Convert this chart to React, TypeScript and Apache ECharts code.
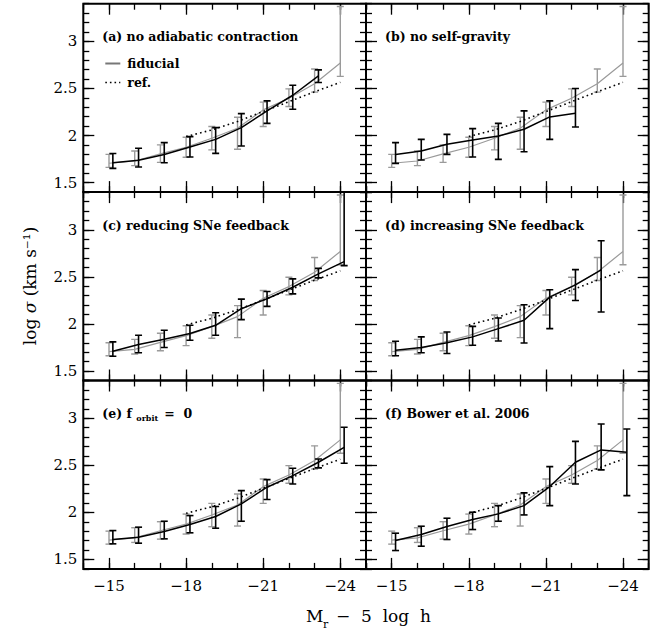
import React, { useEffect, useRef } from "react";
import * as echarts from "echarts";

// ---------- data ----------
const MAGNITUDES = [-15, -16, -17, -18, -19, -20, -21, -22, -23, -24];

// fiducial model (grey, same in all panels)
const FID_Y = [1.706, 1.73, 1.805, 1.876, 1.972, 2.078, 2.273, 2.397, 2.55, 2.77];
const FID_LO = [1.663, 1.681, 1.716, 1.77, 1.848, 1.855, 2.096, 2.309, 2.461, 2.628];
const FID_HI = [1.801, 1.837, 1.901, 1.982, 2.096, 2.195, 2.355, 2.496, 2.706, 3.37];

// reference relation (dotted)
const REF_X = [-18, -19, -20, -21, -22, -23, -24];
const REF_Y = [1.99, 2.06, 2.15, 2.255, 2.36, 2.465, 2.565];

// variant models (black)
const A_Y = [1.712, 1.737, 1.8, 1.879, 1.96, 2.084, 2.262, 2.428, 2.634];
const A_LO = [1.652, 1.666, 1.712, 1.772, 1.811, 1.889, 2.13, 2.279, 2.563];
const A_HI = [1.81, 1.865, 1.925, 1.989, 2.084, 2.233, 2.368, 2.535, 2.698];

const B_Y = [1.8, 1.836, 1.907, 1.953, 1.996, 2.067, 2.198, 2.237];
const B_LO = [1.705, 1.74, 1.8, 1.772, 1.747, 1.829, 1.96, 2.091];
const B_HI = [1.925, 1.96, 2.013, 2.074, 2.13, 2.262, 2.368, 2.499];

const C_Y = [1.711, 1.782, 1.838, 1.898, 1.986, 2.162, 2.268, 2.39, 2.532, 2.662];
const C_LO = [1.658, 1.694, 1.75, 1.827, 1.88, 2.046, 2.187, 2.32, 2.489, 2.62];
const C_HI = [1.81, 1.88, 1.933, 1.986, 2.12, 2.264, 2.345, 2.479, 2.59, 3.4];

const D_Y = [1.722, 1.75, 1.8, 1.863, 1.951, 2.039, 2.285, 2.415, 2.574];
const D_LO = [1.662, 1.694, 1.687, 1.775, 1.82, 1.798, 1.951, 2.25, 2.127];
const D_HI = [1.817, 1.863, 1.915, 1.975, 2.063, 2.204, 2.363, 2.577, 2.884];

const E_Y = [1.712, 1.737, 1.797, 1.871, 1.956, 2.09, 2.267, 2.39, 2.532, 2.69];
const E_LO = [1.666, 1.673, 1.719, 1.783, 1.832, 1.906, 2.136, 2.302, 2.472, 2.521];
const E_HI = [1.807, 1.843, 1.906, 1.966, 2.062, 2.231, 2.348, 2.468, 2.567, 2.903];

const F_Y = [1.701, 1.765, 1.85, 1.924, 1.984, 2.072, 2.274, 2.532, 2.663, 2.638];
const F_LO = [1.595, 1.641, 1.712, 1.818, 1.906, 1.973, 2.072, 2.302, 2.451, 2.178];
const F_HI = [1.779, 1.853, 1.938, 2.002, 2.072, 2.207, 2.486, 2.754, 2.938, 2.885];

const PANEL_LABELS = [
  "(a) no adiabatic contraction",
  "(b) no self-gravity",
  "(c) reducing SNe feedback",
  "(d) increasing SNe feedback",
  "(e) f",
  "(f) Bower et al. 2006",
];

const X_MAJOR = [-15, -18, -21, -24];
const Y_MAJOR = [1.5, 2, 2.5, 3];

// ---------- layout / style ----------
const GRAY = "#9a9a9a";
const BLACK_OFFSET = -0.15;
const COL_LEFT = [83.3, 366];
const COL_W = 282.7;
const ROW_TOP = [3.7, 192.1, 380.5];
const ROW_H = 188.4;
const SERIF = "DejaVu Serif";

const PANELS = [
  { y: A_Y, lo: A_LO, hi: A_HI },
  { y: B_Y, lo: B_LO, hi: B_HI },
  { y: C_Y, lo: C_LO, hi: C_HI },
  { y: D_Y, lo: D_LO, hi: D_HI },
  { y: E_Y, lo: E_LO, hi: E_HI },
  { y: F_Y, lo: F_LO, hi: F_HI },
];

function errRender(color: string, width: number, cap: number) {
  return (params: any, api: any) => {
    const x = api.value(0);
    const p1 = api.coord([x, api.value(1)]);
    const p2 = api.coord([x, api.value(2)]);
    const st = { stroke: color, lineWidth: width };
    return {
      type: "group",
      children: [
        { type: "line", shape: { x1: p1[0], y1: p1[1], x2: p2[0], y2: p2[1] }, style: st },
        { type: "line", shape: { x1: p1[0] - cap, y1: p1[1], x2: p1[0] + cap, y2: p1[1] }, style: st },
        { type: "line", shape: { x1: p2[0] - cap, y1: p2[1], x2: p2[0] + cap, y2: p2[1] }, style: st },
      ],
    };
  };
}

function buildOption() {
  const grid: any[] = [];
  const xAxis: any[] = [];
  const yAxis: any[] = [];
  const series: any[] = [];
  const graphic: any[] = [];

  PANELS.forEach((p, i) => {
    const col = i % 2;
    const row = Math.floor(i / 2);
    grid.push({
      left: COL_LEFT[col],
      top: ROW_TOP[row],
      width: COL_W,
      height: ROW_H,
      show: true,
      borderColor: "#000",
      borderWidth: 2,
      backgroundColor: "transparent",
      containLabel: false,
      outerBoundsMode: "none",
    });
    const tickStyle = { color: "#000", width: 1.3 };
    const xBase = {
      gridIndex: i,
      type: "value",
      min: -25,
      max: -14,
      inverse: true,
      splitLine: { show: false },
      axisLine: { show: false, onZero: false },
    };
    const showX = row === 2;
    ["bottom", "top"].forEach((pos) => {
      xAxis.push({
        ...xBase,
        position: pos,
        axisTick: { show: true, inside: true, length: 11, customValues: X_MAJOR, lineStyle: tickStyle },
        axisLabel: {
          show: pos === "bottom" && showX,
          customValues: X_MAJOR,
          formatter: (v: number) => (v < 0 ? "\u2212" + Math.abs(v) : String(v)),
          margin: 10,
          color: "#000",
          fontFamily: SERIF,
          fontSize: 15,
        },
      });
      xAxis.push({
        ...xBase,
        position: pos,
        interval: 1,
        axisTick: { show: true, inside: true, length: 6, lineStyle: tickStyle },
        axisLabel: { show: false },
      });
    });
    const yBase = {
      gridIndex: i,
      type: "value",
      min: 1.4,
      max: 3.4,
      splitLine: { show: false },
      axisLine: { show: false, onZero: false },
    };
    const showY = col === 0;
    ["left", "right"].forEach((pos) => {
      yAxis.push({
        ...yBase,
        position: pos,
        axisTick: { show: true, inside: true, length: 11, customValues: Y_MAJOR, lineStyle: tickStyle },
        axisLabel: {
          show: pos === "left" && showY,
          customValues: Y_MAJOR,
          margin: 6,
          color: "#000",
          fontFamily: SERIF,
          fontSize: 15,
        },
      });
      yAxis.push({
        ...yBase,
        position: pos,
        interval: 0.1,
        axisTick: { show: true, inside: true, length: 6, lineStyle: tickStyle },
        axisLabel: { show: false },
      });
    });

    const xi = i * 4;
    const yi = i * 4;
    series.push({
      type: "line",
      xAxisIndex: xi,
      yAxisIndex: yi,
      data: MAGNITUDES.map((m, k) => [m, FID_Y[k]]),
      symbol: "none",
      lineStyle: { color: GRAY, width: 1.2 },
      z: 2,
      silent: true,
    });
    series.push({
      type: "custom",
      xAxisIndex: xi,
      yAxisIndex: yi,
      data: MAGNITUDES.map((m, k) => [m, FID_LO[k], FID_HI[k]]),
      encode: { x: 0, y: [1, 2] },
      renderItem: errRender(GRAY, 1.4, 3.5),
      clip: true,
      z: 2,
      silent: true,
    });
    series.push({
      type: "line",
      xAxisIndex: xi,
      yAxisIndex: yi,
      data: REF_X.map((m, k) => [m, REF_Y[k]]),
      symbol: "none",
      lineStyle: { color: "#000", width: 1.6, type: [1.6, 3.2] },
      z: 3,
      silent: true,
    });
    series.push({
      type: "line",
      xAxisIndex: xi,
      yAxisIndex: yi,
      data: p.y.map((v, k) => [MAGNITUDES[k] + BLACK_OFFSET, v]),
      symbol: "none",
      lineStyle: { color: "#000", width: 1.5 },
      z: 4,
      silent: true,
    });
    series.push({
      type: "custom",
      xAxisIndex: xi,
      yAxisIndex: yi,
      data: p.y.map((v, k) => [MAGNITUDES[k] + BLACK_OFFSET, p.lo[k], p.hi[k]]),
      encode: { x: 0, y: [1, 2] },
      renderItem: errRender("#000", 1.6, 3.5),
      clip: true,
      z: 4,
      silent: true,
    });

    // panel label
    const lx = COL_LEFT[col] + 19;
    const ly = ROW_TOP[row] + 33;
    graphic.push({
      type: "text",
      x: lx,
      y: ly,
      style: {
        text: PANEL_LABELS[i],
        font: `bold 12.5px "${SERIF}"`,
        fill: "#000",
        align: "left",
        verticalAlign: "middle",
      },
      z: 10,
    });
    if (i === 4) {
      graphic.push({
        type: "text",
        x: lx + 34,
        y: ly + 4,
        style: { text: "orbit", font: `bold 8px "${SERIF}"`, fill: "#000", align: "left", verticalAlign: "middle" },
        z: 10,
      });
      graphic.push({
        type: "text",
        x: lx + 62,
        y: ly,
        style: { text: "=  0", font: `bold 12.5px "${SERIF}"`, fill: "#000", align: "left", verticalAlign: "middle" },
        z: 10,
      });
    }
  });

  // legend in panel (a)
  const legX = COL_LEFT[0] + 22;
  graphic.push(
    { type: "line", shape: { x1: legX, y1: 63.5, x2: legX + 15, y2: 63.5 }, style: { stroke: "#777", lineWidth: 2 }, z: 10 },
    {
      type: "text",
      x: legX + 22,
      y: 63.5,
      style: { text: "fiducial", font: `bold 12.5px "${SERIF}"`, fill: "#000", align: "left", verticalAlign: "middle" },
      z: 10,
    },
    {
      type: "line",
      shape: { x1: legX, y1: 82.5, x2: legX + 15, y2: 82.5 },
      style: { stroke: "#000", lineWidth: 1.6, lineDash: [1.6, 3] },
      z: 10,
    },
    {
      type: "text",
      x: legX + 22,
      y: 82.5,
      style: { text: "ref.", font: `bold 12.5px "${SERIF}"`, fill: "#000", align: "left", verticalAlign: "middle" },
      z: 10,
    }
  );

  // axis titles
  graphic.push({
    type: "text",
    x: 30,
    y: 286,
    rotation: Math.PI / 2,
    style: {
      text: "log {i|\u03c3} (km s\u207b\u00b9)",
      font: `17px "${SERIF}"`,
      fill: "#000",
      align: "center",
      verticalAlign: "middle",
      rich: { i: { fontStyle: "italic", fontFamily: SERIF, fontSize: 17 } },
    },
    z: 10,
  });
  graphic.push({
    type: "text",
    x: 306,
    y: 616,
    style: { text: "M", font: `17px "${SERIF}"`, fill: "#000", align: "left", verticalAlign: "middle" },
    z: 10,
  });
  graphic.push({
    type: "text",
    x: 323,
    y: 624,
    style: { text: "r", font: `11px "${SERIF}"`, fill: "#000", align: "left", verticalAlign: "middle" },
    z: 10,
  });
  graphic.push({
    type: "text",
    x: 336,
    y: 616,
    style: { text: "\u2212  5  log  h", font: `17px "${SERIF}"`, fill: "#000", align: "left", verticalAlign: "middle" },
    z: 10,
  });

  return {
    animation: false,
    backgroundColor: "#fff",
    grid,
    xAxis,
    yAxis,
    series,
    graphic,
  };
}

export default function App() {
  const ref = useRef<HTMLDivElement>(null);
  useEffect(() => {
    if (!ref.current) return;
    const chart = echarts.init(ref.current, undefined, { renderer: "svg" });
    chart.setOption(buildOption() as any);
    return () => chart.dispose();
  }, []);
  return (
    <div
      ref={ref}
      style={{ position: "fixed", left: 0, top: 0, width: 663, height: 631, background: "#fff" }}
    />
  );
}
